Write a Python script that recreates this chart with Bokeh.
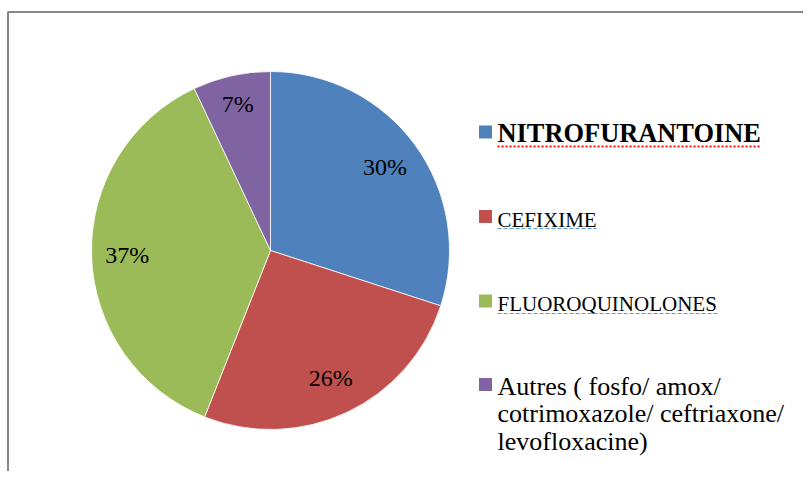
import numpy as np
from bokeh.plotting import figure
from bokeh.models import Range1d
from bokeh.core.properties import value
from bokeh.embed import file_html
from bokeh.resources import INLINE

# ---- data ----
categories = ["NITROFURANTOINE", "CEFIXIME", "FLUOROQUINOLONES",
              "Autres ( fosfo/ amox/\ncotrimoxazole/ ceftriaxone/\nlevofloxacine)"]
percents = [30, 26, 37, 7]
colors = ["#4F81BD", "#C0504D", "#9BBB59", "#8064A2"]

W, H = 803, 471
p = figure(width=W, height=H, output_backend="svg", toolbar_location=None,
           x_range=Range1d(0, W), y_range=Range1d(8, 8 + H),
           min_border=0, outline_line_color=None)
p.axis.visible = False
p.grid.visible = False
p.background_fill_color = "white"
p.border_fill_color = "white"

FONT = "Liberation Serif"

# chart border (top + left)
p.line([7, W], [467.5, 467.5], line_color="#878787", line_width=2)
p.line([7.5, 7.5], [0, 467.5], line_color="#878787", line_width=2)

# ---- pie ----
cx, cy, R = 270, 229, 179
vals = np.array(percents, dtype=float)
frac = vals / vals.sum()
cum = np.concatenate([[0], np.cumsum(frac)])
start = np.pi / 2 - cum[:-1] * 2 * np.pi
end = np.pi / 2 - cum[1:] * 2 * np.pi
p.wedge(x=cx, y=cy, radius=R, start_angle=end, end_angle=start,
        fill_color=colors, line_color="white", line_width=0.8)

mid = (start + end) / 2
lr = np.array([0.79, 0.79, 0.80, 0.84]) * R
p.text(x=cx + lr * np.cos(mid), y=cy + lr * np.sin(mid),
       text=[f"{v}%" for v in percents],
       text_font=value(FONT), text_font_size="24px", text_color="black",
       text_align="center", text_baseline="middle")

# ---- legend ----
sq_x = 485
txt_x = 497
sq_y = [347.5, 263, 178.5, 95]
mid_y = [346.5, 260, 175.5, 93.5]
sizes = ["26.4px", "21px", "21px", "26px"]
styles = ["bold", "normal", "normal", "normal"]
p.rect(x=[sq_x] * 4, y=sq_y, width=13, height=13, fill_color=colors, line_color=None)
for i, lab in enumerate(categories):
    for j, line in enumerate(lab.split("\n")):
        p.text(x=[txt_x], y=[mid_y[i] - 27.5 * j], text=[line],
               text_font=value(FONT), text_font_size=sizes[i],
               text_font_style=styles[i], text_color="black",
               text_align="left", text_baseline="middle")

# spell-check style underlines
p.line([497, 761], [333, 333], line_color="#FF0000", line_width=2, line_dash="2 2")
p.line([497, 596], [251, 251], line_color="#5B9BD5", line_width=1, line_dash="4 2")
p.line([497, 717], [166, 166], line_color="#5B9BD5", line_width=1, line_dash="4 2")

open("out.html", "w").write(file_html(p, INLINE))
